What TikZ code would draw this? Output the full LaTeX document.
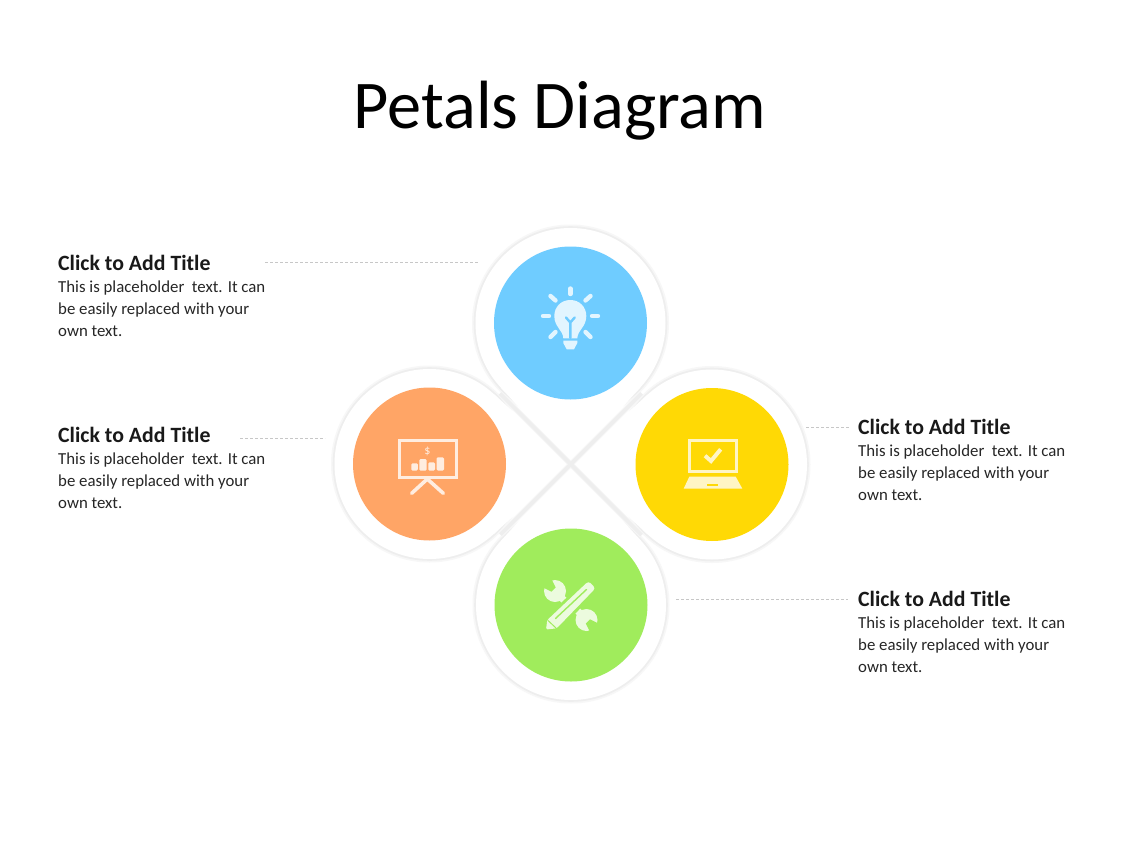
\documentclass[tikz,border=0pt]{standalone}
\usepackage{fontspec}
\setmainfont{Carlito}
\usetikzlibrary{calc}
\definecolor{cblue}{HTML}{6FCCFF}
\definecolor{corange}{HTML}{FFA566}
\definecolor{cyellow}{HTML}{FFD905}
\definecolor{cgreen}{HTML}{A0EC5C}
\definecolor{iblue}{HTML}{E2F5FF}
\definecolor{iorange}{HTML}{FFEDE0}
\definecolor{iyellow}{HTML}{FFF5C4}
\definecolor{igreen}{HTML}{ECFBDE}
\definecolor{edgeA}{HTML}{F7F7F7}
\definecolor{edgeB}{HTML}{EEEEEE}
\tikzset{
  ringdisc/.style={circle,inner sep=0pt,outer sep=0pt,minimum size=190pt},
  colordisc/.style={circle,inner sep=0pt,outer sep=0pt,minimum size=153pt},
  heading/.style={anchor=base west,inner sep=0pt,font=\fontsize{21.8}{21.8}\selectfont\bfseries,text=black!90},
  bodytext/.style={anchor=base west,inner sep=0pt,align=left,font=\fontsize{16.8}{22}\selectfont,text=black!85},
  leader/.style={draw=black!22,line width=0.7pt,dash pattern=on 3pt off 2pt},
  ray/.style={line width=4.4pt,line cap=round},
  xbandsoft/.style={draw=edgeA,line width=5.6pt},
  xband/.style={draw=edgeB,line width=3.6pt}
}
% #1 ring name, #2 centre
\newcommand{\petalshape}[2]{
  \coordinate (#1c) at #2;
  \path (#1c) node[ringdisc] (#1) {};
  \coordinate (#1a) at (tangent cs:node=#1,point={(tip)},solution=1);
  \coordinate (#1b) at (tangent cs:node=#1,point={(tip)},solution=2);
  \draw[edgeA,line width=5pt] (#1c) circle[radius=96pt];
  \draw[edgeB,line width=2.4pt] (#1c) circle[radius=95.6pt];
  \fill[white] (#1c) circle[radius=95pt];
  \fill[white] (#1a) -- (tip) -- (#1b) -- cycle;
}
\begin{document}
\begin{tikzpicture}[x=1pt,y=-1pt]
\useasboundingbox (0,0) rectangle (1128,846);
\fill[white] (0,0) rectangle (1128,846);
\coordinate (tip) at (571,464);

\petalshape{ringG}{(571,605)}
\petalshape{ringB}{(570.5,323)}
\petalshape{ringO}{(429.5,464)}
\petalshape{ringY}{(712,464.5)}
\coordinate (xNW) at (500,393.5);
\coordinate (xNE) at (641.5,393.5);
\coordinate (xSW) at (500.5,534.5);
\coordinate (xSE) at (641.5,535);
\draw[xbandsoft] (xNW) -- (xSE) (xNE) -- (xSW);
\draw[xband] (xNW) -- (xSE) (xNE) -- (xSW);

\node[colordisc,fill=cblue] (discB) at (570.5,323) {};
\node[colordisc,fill=corange] (discO) at (429.5,464) {};
\node[colordisc,fill=cyellow] (discY) at (712,464.5) {};
\node[colordisc,fill=cgreen] (discG) at (571,605) {};

% title
\node[anchor=base,inner sep=0pt,font=\fontsize{68.3}{68.3}\selectfont] (maintitle) at (560,128) {Petals Diagram};

% labels
\node[heading] (t1) at (58,270) {Click to Add Title};
\node[bodytext] (b1) at (58,336.5) {This is placeholder\ \ text. It can\\be easily replaced with your\\own text.};
\node[heading] (t2) at (58,442) {Click to Add Title};
\node[bodytext] (b2) at (58,508.5) {This is placeholder\ \ text. It can\\be easily replaced with your\\own text.};
\node[heading] (t3) at (858,434) {Click to Add Title};
\node[bodytext] (b3) at (858,500.5) {This is placeholder\ \ text. It can\\be easily replaced with your\\own text.};
\node[heading] (t4) at (858,606) {Click to Add Title};
\node[bodytext] (b4) at (858,672.5) {This is placeholder\ \ text. It can\\be easily replaced with your\\own text.};

% leaders
\coordinate (l1a) at (265,262.5); \coordinate (l1b) at (478,262.5);
\coordinate (l2a) at (240,438);   \coordinate (l2b) at (325,438);
\coordinate (l3a) at (806,427);   \coordinate (l3b) at (850,427);
\coordinate (l4a) at (676,599);   \coordinate (l4b) at (848,599);
\draw[leader] (l1a) -- (l1b);
\draw[leader] (l2a) -- (l2b);
\draw[leader] (l3a) -- (l3b);
\draw[leader] (l4a) -- (l4b);

% bulb icon
\begin{scope}[draw=iblue,fill=iblue]
  \draw[ray] (570.3,288.5) -- (570.3,294);
  \draw[ray] (543,316) -- (549,316);
  \draw[ray] (592,316) -- (598,316);
  \draw[ray] (550.5,296) -- (555.5,300.5);
  \draw[ray] (590.5,296) -- (585.5,300.5);
  \draw[ray] (550.5,337) -- (555.5,332);
  \draw[ray] (590.5,337) -- (585.5,332);
  \fill (563.3,338.3) .. controls (563,330) and (554.3,327) .. (554.3,316)
     .. controls (554.3,307) and (561,300) .. (570.3,300)
     .. controls (579.6,300) and (586.3,307) .. (586.3,316)
     .. controls (586.3,327) and (577.6,330) .. (577.3,338.3) -- cycle;
  \fill (563.3,340.7) -- (577.3,340.7) -- (577.3,343) -- (574,349.3) -- (566.7,349.3) -- (563.3,343) -- cycle;
  \draw[cblue,line width=2.4pt,line cap=round,line join=round] (570.3,338) -- (570.3,323) (566,317.5) -- (570.3,322.5) -- (574.7,317.5);
\end{scope}

% presentation board icon
\begin{scope}[draw=iorange,fill=iorange]
  \draw[line width=3pt] (399,440.5) rectangle (456,477.5);
  \draw[line width=3.6pt,line cap=round] (427.3,479) -- (411.7,493.3);
  \draw[line width=3.6pt,line cap=round] (427.3,479) -- (443.3,493.3);
  \fill[rounded corners=1.2pt] (411.3,463.3) rectangle (417.9,470.5);
  \fill[rounded corners=1.2pt] (419.3,459) rectangle (426.7,470.5);
  \fill[rounded corners=1.2pt] (428.3,462.3) rectangle (435,470.5);
  \fill[rounded corners=1.2pt] (436.7,457.3) rectangle (444,470.5);
  \node[inner sep=0pt,text=iorange,font=\fontsize{12}{12}\selectfont] (dollar) at (427.3,451) {\$};
\end{scope}

% laptop icon
\begin{scope}[draw=iyellow,fill=iyellow]
  \draw[line width=2.7pt] (689.5,440.5) rectangle (736.2,471.2);
  \fill (689.3,476.7) -- (735.7,476.7) -- (742.3,488.6) -- (683.7,488.6) -- cycle;
  \fill[cyellow] (707.3,484) rectangle (718.3,485.7);
  \draw[line width=4pt,line join=miter] (705,455.7) -- (711,461) -- (720.7,449.3);
\end{scope}

% tools icon
\begin{scope}[shift={(571,605)}]
  % wrench, upper left
  \fill[igreen] (-16,-14) circle[radius=11pt];
  \fill[cgreen] (-15.3,-17.5) -- (-19.5,-13.3) -- (-30.8,-19) -- (-21,-28.8) -- cycle;
  \draw[igreen,line width=7pt] (-14,-11.5) -- (-2,0);
  % wrench, lower right
  \fill[igreen] (15.5,15) circle[radius=11pt];
  \fill[cgreen] (19,14.3) -- (14.8,18.5) -- (20.45,29.85) -- (30.35,19.95) -- cycle;
  \draw[igreen,line width=7pt] (13,12.5) -- (2,1);
  % pencil
  \fill[cgreen] (-28,27) -- (-26,13) -- (15,-25.5) -- (26.5,-14) -- (-13,26) -- cycle;
  \fill[igreen,rounded corners=1.5pt] (-25,24.5) -- (-23.7,15) -- (16,-22.5) -- (18.5,-23) -- (23.5,-18) -- (23.3,-15.5) -- (-14.3,23.3) -- cycle;
  \draw[cgreen,line width=1.4pt,line cap=round] (-15.5,13.5) -- (15.5,-15.5);
  \draw[cgreen,line width=1pt] (-23,15.5) -- (-15,23);
\end{scope}
\end{tikzpicture}
\end{document}
